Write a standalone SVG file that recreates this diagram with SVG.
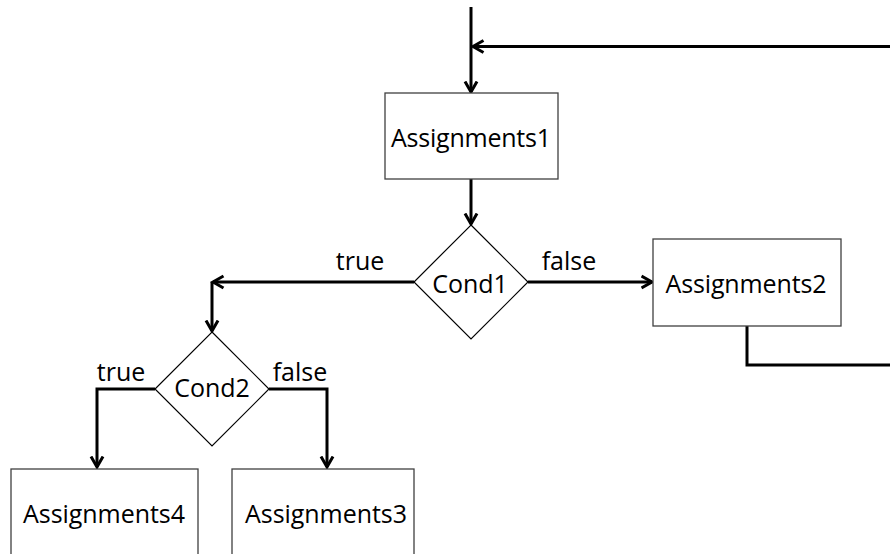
<svg xmlns="http://www.w3.org/2000/svg" width="890" height="554" viewBox="0 0 890 554">
<defs>
<style>
.box{fill:#fff;stroke:#404040;stroke-width:1.3}
.dia{fill:#fff;stroke:#000;stroke-width:1.2}
.t{font-family:"Open Sans","Liberation Sans",sans-serif;font-size:25px;fill:#000;text-anchor:middle}
.c{fill:none;stroke:#000;stroke-width:3}
</style>
<marker id="ah" markerUnits="userSpaceOnUse" markerWidth="16" markerHeight="16" refX="11.5" refY="7" orient="auto" viewBox="0 0 16 14">
<path d="M1,1 L11.5,7 L1,13" fill="none" stroke="#000" stroke-width="3"/>
</marker>
</defs>
<rect width="890" height="554" fill="#fff"/>
<g id="connectors">
<path class="c" d="M471,7 V92" marker-end="url(#ah)"/>
<path class="c" d="M890,46.5 H473" marker-end="url(#ah)"/>
<path class="c" d="M471,179 V224" marker-end="url(#ah)"/>
<path class="c" d="M528,282 H652" marker-end="url(#ah)"/>
<path class="c" d="M414,282 H213" marker-end="url(#ah)"/>
<path class="c" d="M212,282 V331" marker-end="url(#ah)"/>
<path class="c" d="M155,389 H97 V467" marker-end="url(#ah)"/>
<path class="c" d="M269,389 H327 V467" marker-end="url(#ah)"/>
<path class="c" d="M747,326 V365 H890"/>
</g>
<g id="assignments1">
<rect class="box" x="385" y="93" width="173" height="86"/>
<text class="t" x="471" y="147" textLength="160">Assignments1</text>
</g>
<g id="cond1">
<polygon class="dia" points="471,225 528,282 471,339 414,282"/>
<text class="t" x="470" y="293">Cond1</text>
</g>
<g id="assignments2">
<rect class="box" x="653" y="239" width="188" height="87"/>
<text class="t" x="746" y="293" textLength="161">Assignments2</text>
</g>
<g id="cond2">
<polygon class="dia" points="212,332 269,389 212,446 155,389"/>
<text class="t" x="212" y="397">Cond2</text>
</g>
<g id="assignments4">
<rect class="box" x="11" y="469" width="187" height="100"/>
<text class="t" x="104" y="523" textLength="162">Assignments4</text>
</g>
<g id="assignments3">
<rect class="box" x="232" y="469" width="182" height="100"/>
<text class="t" x="326" y="523" textLength="162">Assignments3</text>
</g>
<g id="labels">
<text class="t" x="360" y="270">true</text>
<text class="t" x="569" y="270">false</text>
<text class="t" x="121" y="381">true</text>
<text class="t" x="300" y="381">false</text>
</g>
</svg>
